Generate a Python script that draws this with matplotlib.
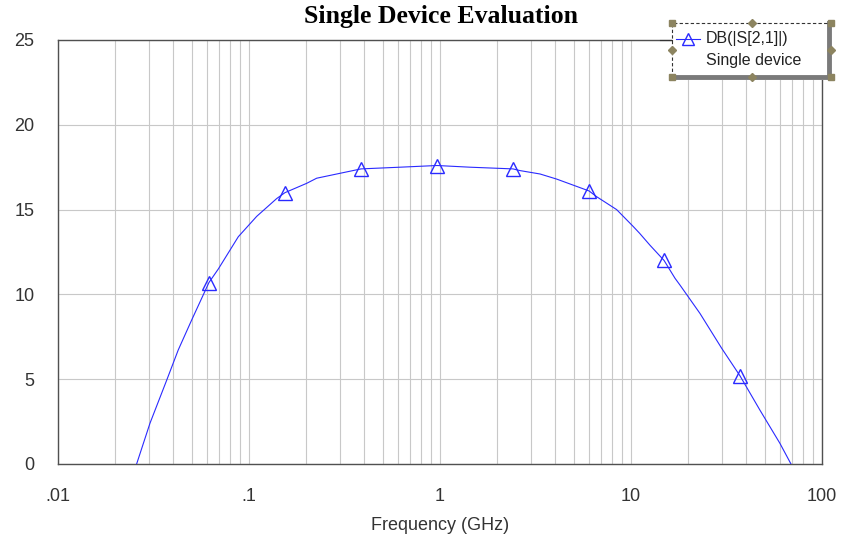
import numpy as np
import matplotlib
matplotlib.use("Agg")
import matplotlib.pyplot as plt
from matplotlib.patches import Rectangle
from matplotlib.lines import Line2D
from matplotlib.ticker import FixedLocator, LogLocator, NullFormatter

# curve (GHz, dB)
freq = [0.0258, 0.0303, 0.0371, 0.0426, 0.0501, 0.0617, 0.0691, 0.0879,
        0.1097, 0.1396, 0.1543, 0.2005, 0.226, 0.2996, 0.386, 0.617, 0.965,
        1.436, 2.41, 2.624, 3.34, 4.08, 6.03, 6.61, 8.41, 10.28, 11.1, 12.57,
        14.9, 17.0, 18.05, 22.96, 29.85, 37.2, 47.3, 60.2, 68.8]
s21 = [0.0, 2.4, 4.95, 6.72, 8.49, 10.7, 11.5, 13.4,
       14.6, 15.65, 16.0, 16.55, 16.85, 17.14, 17.4, 17.5, 17.6,
       17.5, 17.4, 17.3, 17.1, 16.8, 16.1, 15.76, 15.0, 14.0, 13.6, 12.9,
       12.0, 10.95, 10.55, 8.88, 6.82, 5.2, 3.18, 1.22, 0.0]

# marker positions
mark_freq = [0.0617, 0.1543, 0.386, 0.965, 2.41, 6.03, 14.9, 37.2]
mark_s21 = [10.7, 16.0, 17.4, 17.6, 17.4, 16.1, 12.0, 5.2]

x_ticks = [0.01, 0.1, 1, 10, 100]
x_ticklabels = [".01", ".1", "1", "10", "100"]
y_ticks = [0, 5, 10, 15, 20, 25]

blue = "#2a2aff"
plt.rcParams["font.family"] = ["Liberation Sans", "DejaVu Sans"]

fig = plt.figure(figsize=(8.44, 5.46), dpi=100)
ax = fig.add_axes([58 / 844, 1 - 464 / 546, (822 - 58) / 844, (464 - 40) / 546])

ax.set_xscale("log")
ax.set_xlim(0.01, 100)
ax.set_ylim(0, 25)

ax.plot(freq, s21, color=blue, lw=0.8, zorder=3)
ax.plot(mark_freq, mark_s21, ls="none", marker="^", ms=9.5, mfc="none",
        mec=blue, mew=1.0, zorder=4, clip_on=False)

ax.xaxis.set_major_locator(FixedLocator(x_ticks))
ax.set_xticklabels(x_ticklabels)
ax.xaxis.set_minor_locator(LogLocator(base=10, subs=np.arange(2, 10)))
ax.xaxis.set_minor_formatter(NullFormatter())
ax.set_yticks(y_ticks)

ax.grid(True, which="both", axis="x", color="#c8c8c8", lw=0.8)
ax.grid(True, which="major", axis="y", color="#c8c8c8", lw=0.8)
ax.set_axisbelow(True)

ax.tick_params(axis="both", which="both", length=0, labelsize=13,
               labelcolor="#333333")
ax.tick_params(axis="y", pad=17)
ax.tick_params(axis="x", pad=17)
for sp in ax.spines.values():
    sp.set_color("#505050")
    sp.set_linewidth(1.0)

ax.set_xlabel("Frequency (GHz)", fontsize=13, color="#333333", labelpad=9)
fig.text(441 / 844, 1 - 17 / 546, "Single Device Evaluation",
         family="Liberation Serif", weight="bold", fontsize=18.5,
         ha="center", va="center")

# legend box, drawn in figure pixels
def fx(px):
    return px / 844

def fy(py):
    return 1 - py / 546

fig.add_artist(Rectangle((fx(672), fy(80)), fx(161), 58 / 546,
                         facecolor="white", edgecolor="none", zorder=5))
fig.add_artist(Line2D([fx(829), fx(829), fx(672)], [fy(23), fy(77), fy(77)],
                      color="#7a7a7a", lw=3.5, zorder=6))
fig.add_artist(Line2D([fx(672), fx(672), fx(831)], [fy(77), fy(23), fy(23)],
                      color="#333333", lw=0.8, ls=(0, (3, 2)), zorder=6))
fig.add_artist(Line2D([fx(660), fx(672)], [fy(40), fy(40)],
                      color="#333333", lw=0.8, zorder=6))
for hx, hy, m in [(672, 23, "s"), (831, 23, "s"), (672, 77, "s"), (831, 77, "s"),
                  (752, 23, "D"), (752, 77, "D"), (672, 50, "D"), (831, 50, "D")]:
    fig.add_artist(Line2D([fx(hx)], [fy(hy)], marker=m, ms=4.5,
                          color="#8c8460", mec="#8c8460", zorder=7))
fig.add_artist(Line2D([fx(676), fx(700)], [fy(39), fy(39)], color=blue,
                      lw=0.8, zorder=7))
fig.add_artist(Line2D([fx(688)], [fy(39)], marker="^", ms=8, mfc="none",
                      mec=blue, mew=1.0, zorder=7))
fig.text(fx(706), fy(39), "DB(|S[2,1]|)", fontsize=11.5, color="#222222",
         va="center", ha="left", zorder=8)
fig.text(fx(706), fy(61), "Single device", fontsize=11.5, color="#222222",
         va="center", ha="left", zorder=8)

fig.savefig("out.png", dpi=100)
